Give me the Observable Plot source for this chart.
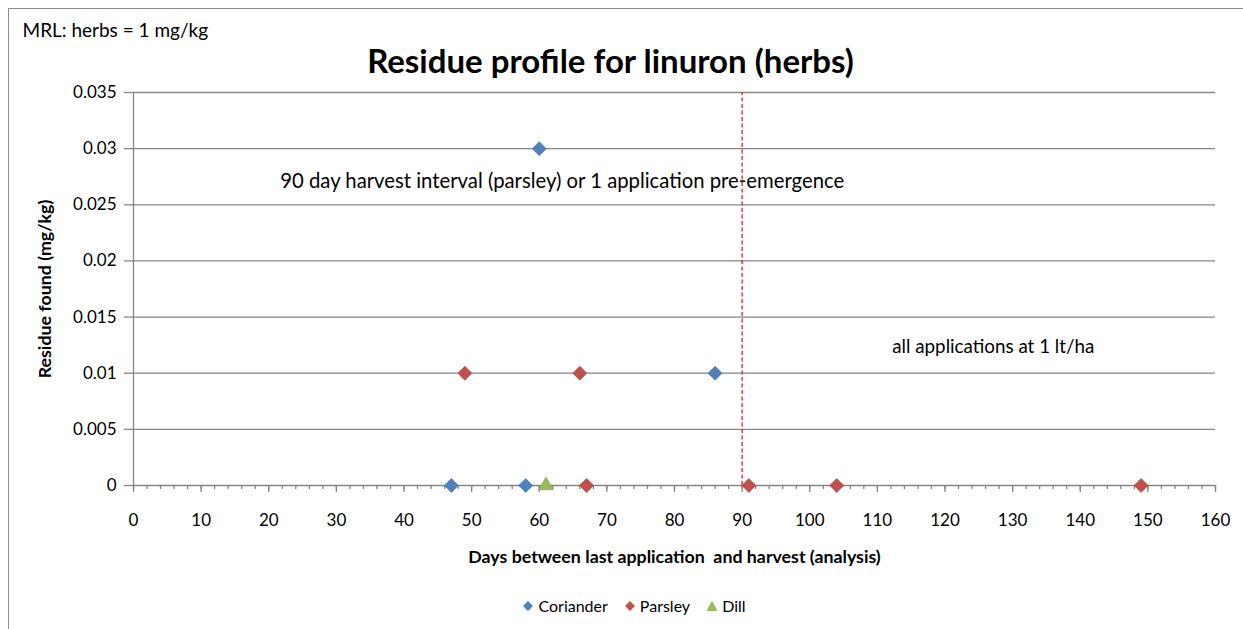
<!DOCTYPE html>
<html>
<head>
<meta charset="utf-8">
<script src="https://cdn.jsdelivr.net/npm/d3@7"></script>
<script src="https://cdn.jsdelivr.net/npm/@observablehq/plot@0.6"></script>
<style>
  html, body { margin: 0; padding: 0; background: #fff; }
  #wrap { position: relative; width: 1243px; height: 629px; overflow: hidden; font-family: Lato, "Open Sans", sans-serif; }
  #frame { position: absolute; left: 8px; top: 8px; width: 1400px; height: 800px; border-left: 1.5px solid #8c8c8c; border-top: 1.5px solid #8c8c8c; pointer-events: none; }
  #legend { position: absolute; top: 596px; left: 0; width: 1268px; display: flex; justify-content: center; gap: 16px; font-size: 16px; color: #000; }
  #legend span.item { display: inline-flex; align-items: center; gap: 4px; }
</style>
</head>
<body>
<div id="wrap"><div id="frame"></div><div id="legend"></div></div>
<script>
// ---- data ----
const seriesNames = ["Coriander", "Parsley", "Dill"];
const corianderDays = [47, 58, 60, 86];
const corianderResidue = [0, 0, 0.03, 0.01];
const parsleyDays = [49, 66, 67, 91, 104, 149];
const parsleyResidue = [0.01, 0.01, 0, 0, 0, 0];
const dillDays = [61];
const dillResidue = [0];
const harvestInterval = 90;
const yTicks = [0, 0.005, 0.01, 0.015, 0.02, 0.025, 0.03, 0.035];
const xTicks = [0, 10, 20, 30, 40, 50, 60, 70, 80, 90, 100, 110, 120, 130, 140, 150, 160];
const titleText = "Residue profile for linuron (herbs)";
const mrlText = "MRL: herbs = 1 mg/kg";
const note1 = "90 day harvest interval (parsley) or 1 application pre-emergence";
const note2 = "all applications at 1 lt/ha";
const xLabel = "Days between last application  and harvest (analysis)";
const yLabel = "Residue found (mg/kg)";

const colors = {Coriander: "#4F81BD", Parsley: "#C0504D", Dill: "#9BBB59"};
const strokes = {Coriander: "#40699a", Parsley: "#9c3f3c", Dill: "#7e9a48"};
const symbols = {Coriander: "diamond2", Parsley: "diamond2", Dill: "triangle2"};

const seriesData = {
  Coriander: corianderDays.map((d, i) => ({x: d, y: corianderResidue[i]})),
  Parsley: parsleyDays.map((d, i) => ({x: d, y: parsleyResidue[i]})),
  Dill: dillDays.map((d, i) => ({x: d, y: dillResidue[i]}))
};

const minorX = d3.range(0, 161, 2);
const font = "Lato, 'Open Sans', sans-serif";

const dotMarks = seriesNames.map(name =>
  Plot.dot(seriesData[name], {x: "x", y: "y", symbol: symbols[name], fill: colors[name],
    stroke: strokes[name], strokeWidth: 0.6, r: name === "Dill" ? 7 : 6.3})
);

const chart = Plot.plot({
  width: 1243,
  height: 629,
  marginLeft: 133,
  marginRight: 28,
  marginTop: 92,
  marginBottom: 144,
  style: {fontFamily: font, background: "transparent", overflow: "visible"},
  x: {domain: [0, 160]},
  y: {domain: [0, 0.035]},
  marks: [
    Plot.ruleY(yTicks, {x1: 0, x2: 160, stroke: "#868686", strokeWidth: 1.3}),
    Plot.ruleX([0], {y1: 0, y2: 0.035, stroke: "#868686", strokeWidth: 1.3}),
    Plot.axisY({ticks: yTicks, tickSize: 9, tickPadding: 8, stroke: "#868686", strokeWidth: 1.3,
      tickFormat: d => d === 0 ? "0" : String(+d.toFixed(3)), fontSize: 17, fill: "#000", label: null}),
    Plot.axisX({ticks: minorX, tickSize: 4, text: null, stroke: "#868686", strokeWidth: 1.3, label: null}),
    Plot.axisX({ticks: xTicks, tickSize: 7, tickPadding: 21, stroke: "#868686", strokeWidth: 1.3,
      fontSize: 17, fill: "#000", label: null}),
    Plot.ruleX([harvestInterval], {y1: 0, y2: 0.035, stroke: "#FF0000", strokeWidth: 1.2, strokeDasharray: "4,2.5"}),
    ...dotMarks,
    Plot.text([note1], {x: 21.7, y: 0.0271, text: d => d, textAnchor: "start", fontSize: 20.3, fill: "#000"}),
    Plot.text([note2], {x: 112.2, y: 0.0123, text: d => d, textAnchor: "start", fontSize: 18.8, fill: "#000"}),
    Plot.text([titleText], {frameAnchor: "top", dx: -64, dy: -30, lineAnchor: "middle", text: d => d, fontSize: 33, fontWeight: "bold", fill: "#000"}),
    Plot.text([mrlText], {frameAnchor: "top-left", dx: -111, dy: -62, lineAnchor: "middle", text: d => d, textAnchor: "start", fontSize: 19, fill: "#000"}),
    Plot.text([xLabel], {frameAnchor: "bottom", dy: 72, lineAnchor: "middle", text: d => d, fontSize: 17.8, fontWeight: "bold", fill: "#000"}),
    Plot.text([yLabel], {frameAnchor: "left", dx: -88, rotate: -90, textAnchor: "middle", lineAnchor: "middle", text: d => d, fontSize: 17.8, fontWeight: "bold", fill: "#000"})
  ]
});
chart.style.position = "absolute";
chart.style.left = "0px";
chart.style.top = "0px";
const wrap = document.getElementById("wrap");
wrap.insertBefore(chart, wrap.firstChild);

// legend
const legend = document.getElementById("legend");
for (const name of seriesNames) {
  const item = document.createElement("span");
  item.className = "item";
  const sym = symbols[name] === "triangle2"
    ? `<svg width="12" height="12" viewBox="-6 -6 12 12"><path d="M0,-5.5L5.5,5L-5.5,5Z" fill="${colors[name]}"/></svg>`
    : `<svg width="12" height="12" viewBox="-6 -6 12 12"><path d="M0,-5L5,0L0,5L-5,0Z" fill="${colors[name]}"/></svg>`;
  item.innerHTML = sym + `<span>${name}</span>`;
  legend.appendChild(item);
}
</script>
</body>
</html>
